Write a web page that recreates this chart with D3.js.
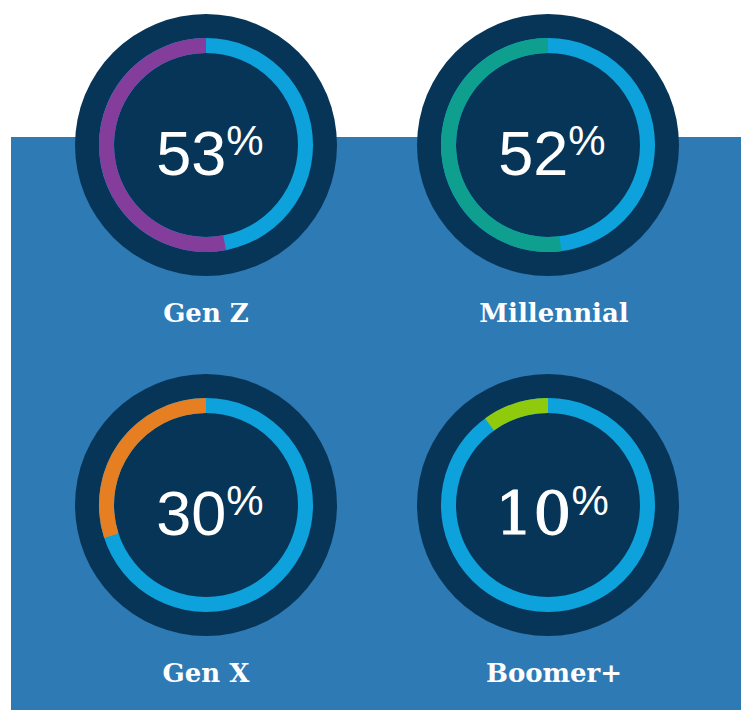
<!DOCTYPE html>
<html lang="en">
<head>
    <meta charset="UTF-8">
    <title>Share by generation</title>
    <style type="text/css">
        body { margin:0; background:#fff }
        .label { font-family:"DejaVu Serif", serif; font-weight:bold; fill:#fff }
        .num { fill:#fff; font-family:"Liberation Sans", sans-serif }
        .num .big { font-size:63px }
        .num .pct { font-size:42px }
        .num.slab .big { font-family:"DejaVu Serif", serif; font-size:60px; stroke:#fff; stroke-width:1px }
    </style>
</head>
<body>
<script src="https://d3js.org/d3.v7.min.js"></script>
<script>
    var groups = ['Gen Z', 'Millennial', 'Gen X', 'Boomer+'];
    var shares = [53, 52, 30, 10];

    var width = 742,
        height = 710,
        svg = d3.select('body').append('svg')
                .attr('width', width)
                .attr('height', height);

    var accent = d3.scaleOrdinal()
        .domain(groups)
        .range(['#853d9c', '#0f9f8f', '#e67e22', '#8fcb0c']);

    var xScale = d3.scalePoint().domain([0, 1]).range([206, 548]),
        yScale = d3.scalePoint().domain([0, 1]).range([145, 505]),
        angle = d3.scaleLinear().domain([0, 100]).range([0, -2 * Math.PI]);

    var ring = d3.arc().innerRadius(92).outerRadius(107);

    // blue panel behind
    svg.append('rect')
        .attr('x', 11).attr('y', 137)
        .attr('width', 730).attr('height', height - 137)
        .attr('fill', '#2e7ab4');

    var cells = svg.selectAll('g.cell')
        .data(groups)
        .enter().append('g')
        .attr('class', 'cell')
        .attr('transform', function(d, i){
            return 'translate(' + xScale(i % 2) + ',' + yScale(Math.floor(i / 2)) + ')';
        });

    cells.append('circle')
        .attr('r', 131)
        .attr('fill', '#073558');

    cells.append('path')
        .attr('d', ring({startAngle: 0, endAngle: 2 * Math.PI}))
        .attr('fill', '#0ea2dc');

    cells.append('path')
        .attr('d', function(d, i){
            return ring({startAngle: angle(shares[i]), endAngle: 0});
        })
        .attr('fill', function(d){ return accent(d); });

    // the last figure is set in a slab serif in the original
    var num = cells.append('text')
        .attr('class', function(d){ return d === 'Boomer+' ? 'num slab' : 'num'; })
        .attr('text-anchor', 'middle')
        .attr('x', 4)
        .attr('y', 30);

    num.append('tspan')
        .attr('class', 'big')
        .text(function(d, i){ return shares[i]; });

    num.append('tspan')
        .attr('class', 'pct')
        .attr('dy', -20)
        .text('%');

    cells.append('text')
        .attr('class', 'label')
        .attr('text-anchor', 'middle')
        .attr('x', function(d, i){ return i % 2 ? 6 : 0; })
        .attr('y', 177)
        .style('font-size', '26px')
        .text(function(d){ return d; });
</script>
</body>
</html>
